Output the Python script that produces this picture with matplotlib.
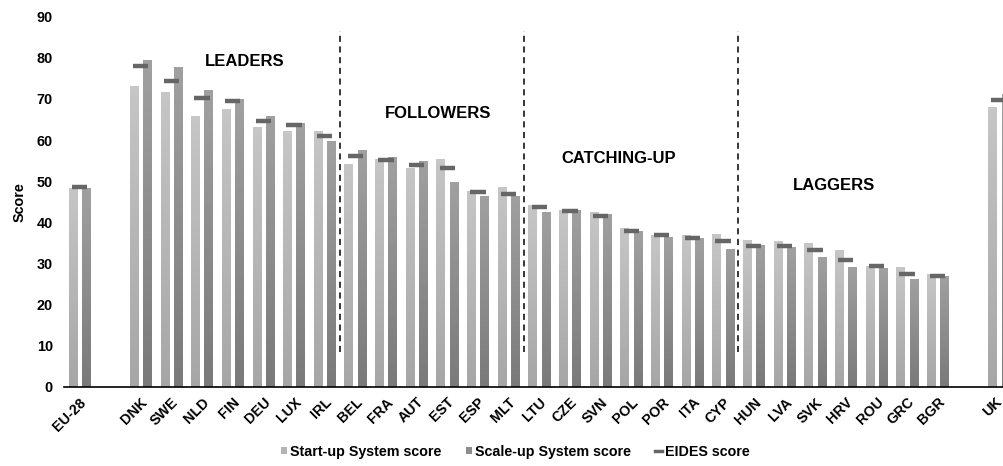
import matplotlib.pyplot as plt
import numpy as np
from matplotlib.lines import Line2D
from matplotlib.patches import Patch

plt.rcParams['font.family'] = ['Liberation Sans', 'DejaVu Sans']
plt.rcParams['font.weight'] = 'bold'

# data
countries = ['EU-28', '', 'DNK', 'SWE', 'NLD', 'FIN', 'DEU', 'LUX', 'IRL',
             'BEL', 'FRA', 'AUT', 'EST', 'ESP', 'MLT',
             'LTU', 'CZE', 'SVN', 'POL', 'POR', 'ITA', 'CYP',
             'HUN', 'LVA', 'SVK', 'HRV', 'ROU', 'GRC', 'BGR', '', 'UK']
startup = [48.3, np.nan, 73.2, 71.6, 65.8, 67.5, 63.2, 62.2, 62.1,
           54.1, 55.3, 53.2, 55.5, 47.7, 48.7,
           44.1, 43.1, 42.6, 38.7, 36.8, 37.0, 37.2,
           35.8, 35.5, 35.0, 33.3, 29.4, 29.2, 27.5, np.nan, 68.1]
scaleup = [48.3, np.nan, 79.5, 77.8, 72.3, 69.9, 65.8, 64.1, 59.7,
           57.5, 55.9, 55.0, 49.7, 46.5, 46.4,
           42.5, 43.1, 42.1, 37.9, 36.4, 36.2, 33.6,
           34.6, 33.9, 31.6, 29.2, 29.0, 26.1, 27.0, np.nan, 71.1]
eides = [48.5, np.nan, 78.1, 74.3, 70.2, 69.5, 64.6, 63.6, 60.9,
         56.1, 55.2, 53.9, 53.1, 47.5, 46.8,
         43.7, 42.8, 41.6, 38.0, 36.9, 36.2, 35.4,
         34.2, 34.3, 33.2, 30.9, 29.5, 27.4, 26.9, np.nan, 69.8]
groups = ['LEADERS', 'FOLLOWERS', 'CATCHING-UP', 'LAGGERS']
group_x = [5.4, 11.7, 17.6, 24.6]
group_y = [79, 66.5, 55.5, 49]
dividers = [8.5, 14.5, 21.5]

x = np.arange(len(countries))
w = 0.27

fig = plt.figure(figsize=(10.04, 4.66), dpi=100)
ax = fig.add_axes([0.0637, 0.170, 0.9363, 0.794])


def gradient_bars(bars, top, bottom):
    cmap = plt.matplotlib.colors.LinearSegmentedColormap.from_list('g', [bottom, top])
    grad = np.linspace(0, 1, 64).reshape(-1, 1)
    for b in bars:
        h = b.get_height()
        if not np.isfinite(h):
            continue
        b.set_facecolor('none')
        x0 = b.get_x()
        im = ax.imshow(grad, extent=[x0, x0 + b.get_width(), 0, h], origin='lower',
                       cmap=cmap, aspect='auto', zorder=2)
        im.set_clip_path(b)


b1 = ax.bar(x - 0.215, startup, w, edgecolor='none', zorder=2)
b2 = ax.bar(x + 0.215, scaleup, w, edgecolor='none', zorder=2)
gradient_bars(b1, '#c6c6c6', '#a6a6a6')
gradient_bars(b2, '#a0a0a0', '#7a7a7a')

ax.hlines(eides, x - 0.25, x + 0.25, colors='#666666', lw=3.2, zorder=3)

for d in dividers:
    ax.plot([d, d], [8.5, 86.6], ls=(0, (4, 3)), color='black', lw=1.1)

for g, gx, gy in zip(groups, group_x, group_y):
    ax.text(gx, gy, g, ha='center', va='center', fontsize=12, fontweight='bold')

ax.set_xlim(-0.5, 30.16)
ax.set_ylim(0, 90)
ax.set_yticks(np.arange(0, 91, 10))
# UK label is pulled in a little from the right edge
tick_pos = [i for i in x if countries[i]]
tick_pos[-1] = x[-1] - 0.15
ax.set_xticks(tick_pos)
ax.set_xticklabels([c for c in countries if c], rotation=45, ha='right', va='top',
                   rotation_mode='anchor', fontsize=10.3, fontweight='bold')
ax.tick_params(axis='y', labelsize=10.4, length=0, pad=8)
ax.tick_params(axis='x', length=0, pad=6)
for s in ['top', 'right', 'left']:
    ax.spines[s].set_visible(False)
ax.spines['bottom'].set_linewidth(1.2)
ax.set_ylabel('Score', fontsize=10.4, fontweight='bold', labelpad=7)

handles = [Patch(facecolor='#b4b4b4', label='Start-up System score'),
           Patch(facecolor='#8c8c8c', label='Scale-up System score'),
           Line2D([], [], color='#666666', lw=2.5, label='EIDES score')]
fig.legend(handles=handles, loc='lower center', bbox_to_anchor=(0.513, -0.012), ncol=3,
           frameon=False, handlelength=0.45, handleheight=0.45,
           handletextpad=0.2, columnspacing=1.7, prop={'weight': 'bold', 'size': 10.3})

fig.savefig('out.png', dpi=100)
